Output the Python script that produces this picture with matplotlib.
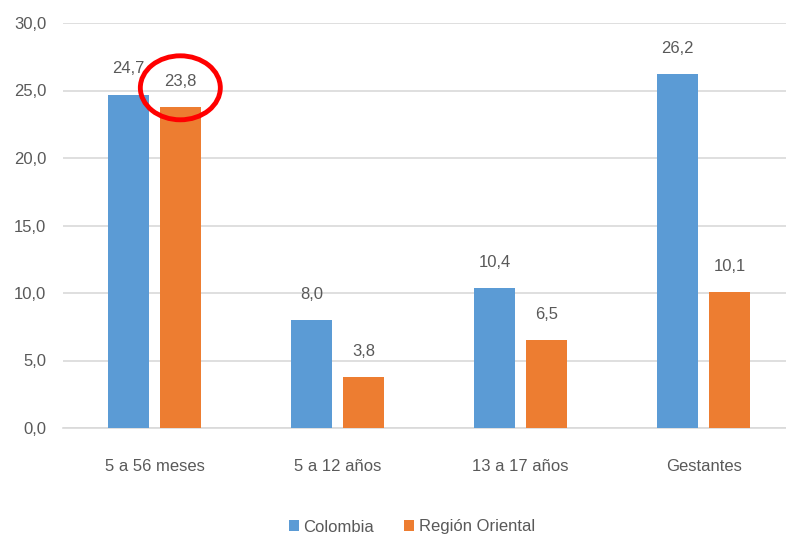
import numpy as np
import matplotlib.pyplot as plt
from matplotlib.patches import Ellipse

# Data
categories = ['5 a 56 meses', '5 a 12 años', '13 a 17 años', 'Gestantes']
colombia = [24.7, 8.0, 10.4, 26.2]
oriental = [23.8, 3.8, 6.5, 10.1]
yticks = [0, 5, 10, 15, 20, 25, 30]

plt.rcParams['font.family'] = ['Liberation Sans', 'DejaVu Sans']
grey = '#595959'
blue = '#5B9BD5'
orange = '#ED7D31'
fs = 12

fig = plt.figure(figsize=(7.86, 5.41), dpi=100)
ax = fig.add_axes([63/786, 113/541, 723/786, 405/541])

x = np.arange(len(categories))
w = 0.224
off = 0.141
b1 = ax.bar(x - off, colombia, w, color=blue, label='Colombia', zorder=3)
b2 = ax.bar(x + off, oriental, w, color=orange, label='Región Oriental', zorder=3)

for bars, vals in [(b1, colombia), (b2, oriental)]:
    for r, v in zip(bars, vals):
        ax.annotate(f'{v:.1f}'.replace('.', ','),
                    (r.get_x() + r.get_width() / 2, v),
                    xytext=(0, 13), textcoords='offset points',
                    ha='center', va='bottom', fontsize=fs, color=grey)

ax.set_xlim(-0.5, 3.45)
ax.set_ylim(0, 30)
ax.set_yticks(yticks)
ax.set_yticklabels([f'{t:.1f}'.replace('.', ',') for t in yticks])
ax.set_xticks(x)
ax.set_xticklabels(categories)
ax.tick_params(axis='both', length=0, labelsize=fs, colors=grey)
ax.tick_params(axis='y', pad=12)
ax.tick_params(axis='x', pad=22)
ax.grid(axis='y', color='#D9D9D9', linewidth=1.2, zorder=0)
for s in ['top', 'right', 'left']:
    ax.spines[s].set_visible(False)
ax.spines['bottom'].set_color('#D9D9D9')
ax.spines['bottom'].set_linewidth(1.2)

# red highlight circle
ax.add_patch(Ellipse((off, 25.2), 0.437, 4.74, fill=False, edgecolor='#FF0000',
                     linewidth=3.5, zorder=5, clip_on=False))

fig.legend(loc='center', bbox_to_anchor=(412/786, 1 - 527/541), ncol=2,
           frameon=False, fontsize=fs, handlelength=0.6, handleheight=0.6,
           columnspacing=1.8, handletextpad=0.3, labelcolor=grey)

plt.savefig('out.png', dpi=100)
